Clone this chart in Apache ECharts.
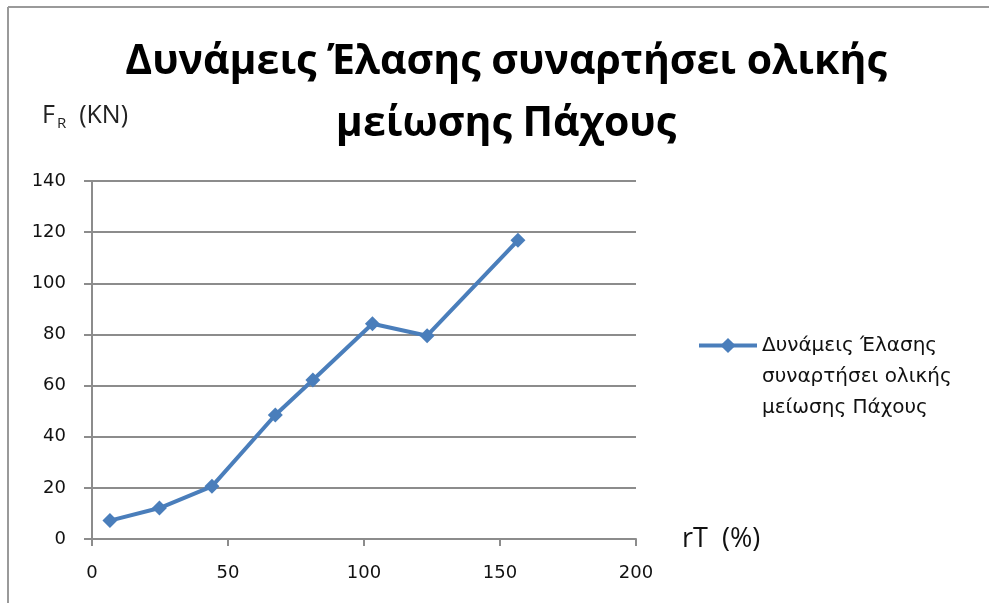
<!DOCTYPE html>
<html>
<head>
<meta charset="utf-8">
<script src="https://cdn.jsdelivr.net/npm/echarts@6/dist/echarts.min.js"></script>
<style>
  html, body { margin: 0; padding: 0; background: #fff; }
  #chart { width: 989px; height: 603px; }
</style>
</head>
<body>
<div id="chart"></div>
<script>
// Total thickness reduction rT (%) against tensile force F_R (kN)
const seriesName = 'Δυνάμεις Έλασης συναρτήσει ολικής μείωσης Πάχους';
const legendLines = ['Δυνάμεις Έλασης', 'συναρτήσει ολικής', 'μείωσης Πάχους'];
const reductionPct = [6.6, 24.8, 44.1, 67.4, 81.2, 103.1, 123.2, 156.6];
const forceKN = [7.2, 12.1, 20.6, 48.5, 62.2, 84.2, 79.5, 116.8];
const xTicks = [0, 50, 100, 150, 200];
const yTicks = [0, 20, 40, 60, 80, 100, 120, 140];

const TITLE_FONT = '"Open Sans", "Noto Sans", sans-serif';
const LABEL_FONT = '"DejaVu Sans", "Noto Sans", sans-serif';
const chart = echarts.init(document.getElementById('chart'));

chart.setOption({
  animation: false,
  backgroundColor: '#fff',
  title: {
    text: 'Δυνάμεις Έλασης συναρτήσει ολικής\nμείωσης Πάχους',
    left: 501,
    textAlign: 'center',
    top: 26,
    textStyle: {
      fontFamily: TITLE_FONT,
      fontWeight: 'bold',
      fontSize: 41,
      lineHeight: 62,
      color: '#000'
    }
  },
  graphic: [
    { type: 'line', shape: { x1: 8, y1: 7, x2: 989, y2: 7 }, style: { stroke: '#9a9a9a', lineWidth: 2 } },
    { type: 'line', shape: { x1: 8, y1: 7, x2: 8, y2: 603 }, style: { stroke: '#9a9a9a', lineWidth: 2 } }
  ],
  legend: {
    left: 697,
    top: 268,
    padding: 0,
    orient: 'vertical',
    itemWidth: 58,
    itemHeight: 19,
    data: [seriesName],
    lineStyle: { width: 4 },
    // two blank lines above keep the marker level with the first text line
    formatter: function () {
      return '\n\n' + legendLines.join('\n');
    },
    textStyle: {
      fontFamily: LABEL_FONT,
      fontSize: 20,
      lineHeight: 31,
      color: '#111'
    }
  },
  grid: { left: 92, right: 353, top: 181, bottom: 64 },
  xAxis: {
    type: 'value',
    min: xTicks[0],
    max: xTicks[xTicks.length - 1],
    interval: 50,
    name: 'rT  (%)',
    nameLocation: 'end',
    nameGap: 46,
    nameTextStyle: { fontFamily: TITLE_FONT, fontSize: 27, color: '#111', verticalAlign: 'middle', padding: [-2, 0, 0, 0] },
    axisLine: { lineStyle: { color: '#8c8c8c', width: 2 } },
    axisTick: { show: true, length: 7, lineStyle: { color: '#8c8c8c', width: 2 } },
    axisLabel: { fontFamily: LABEL_FONT, fontSize: 18, color: '#111', margin: 25 },
    splitLine: { show: false }
  },
  yAxis: {
    type: 'value',
    min: yTicks[0],
    max: yTicks[yTicks.length - 1],
    interval: 20,
    name: '{f|F}{s|R}{f|  (KN)}',
    nameLocation: 'end',
    nameGap: 50,
    nameTextStyle: {
      align: 'left',
      padding: [0, 0, 0, -50],
      rich: {
        f: { fontFamily: TITLE_FONT, fontSize: 25, color: '#222' },
        s: { fontFamily: TITLE_FONT, fontSize: 15, color: '#222', verticalAlign: 'bottom', padding: [16, 0, 0, 2] }
      }
    },
    axisLine: { show: true, lineStyle: { color: '#8c8c8c', width: 2 } },
    axisTick: { show: true, inside: false, length: 8, lineStyle: { color: '#8c8c8c', width: 2 } },
    axisLabel: { fontFamily: LABEL_FONT, fontSize: 18, color: '#111', margin: 26 },
    splitLine: { show: true, lineStyle: { color: '#8c8c8c', width: 2 } }
  },
  series: [{
    name: seriesName,
    type: 'line',
    data: reductionPct.map((x, i) => [x, forceKN[i]]),
    symbol: 'diamond',
    symbolSize: 15,
    lineStyle: { color: '#4a7ebb', width: 4 },
    itemStyle: { color: '#4a7ebb' }
  }]
});
</script>
</body>
</html>
